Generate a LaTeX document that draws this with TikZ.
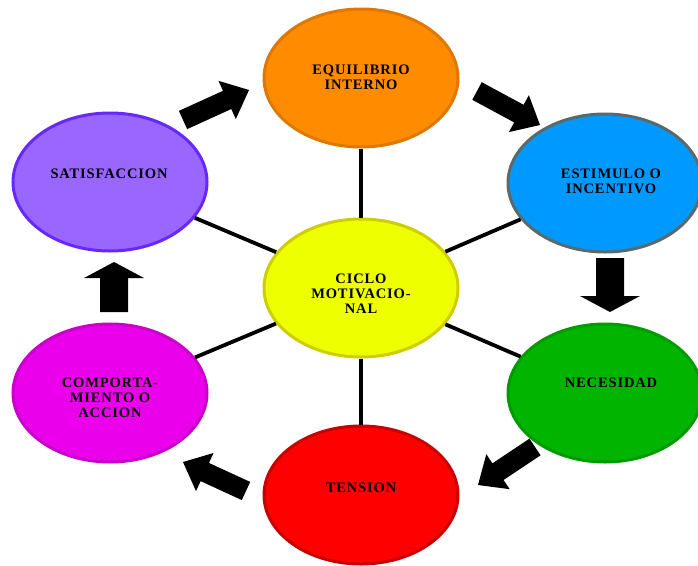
\documentclass[tikz,border=0pt]{standalone}
\usepackage{fontspec}
\setmainfont{Liberation Serif}[LetterSpace=6]
\usetikzlibrary{calc,shapes.geometric}
\definecolor{orfill}{RGB}{255,140,0}
\definecolor{ordraw}{RGB}{222,120,0}
\definecolor{pufill}{RGB}{153,102,255}
\definecolor{pudraw}{RGB}{102,40,255}
\definecolor{blfill}{RGB}{0,153,255}
\definecolor{bldraw}{RGB}{90,106,106}
\definecolor{yefill}{RGB}{238,255,0}
\definecolor{yedraw}{RGB}{205,205,0}
\definecolor{mafill}{RGB}{235,0,235}
\definecolor{madraw}{RGB}{200,0,200}
\definecolor{grfill}{RGB}{0,180,0}
\definecolor{grdraw}{RGB}{0,155,0}
\definecolor{rdfill}{RGB}{255,0,0}
\definecolor{rddraw}{RGB}{200,0,0}
\newcommand\bkarrow[5]{%
  \coordinate (hb) at ($(#2)!#5!(#1)$);
  \fill[black] ($(#1)!#3!90:(#2)$) -- ($(hb)!#3!90:(#2)$) -- ($(hb)!#4!90:(#2)$) -- (#2)
    -- ($(hb)!#4!-90:(#2)$) -- ($(hb)!#3!-90:(#2)$) -- ($(#1)!#3!-90:(#2)$) -- cycle;}
\begin{document}
\begin{tikzpicture}[x=1pt,y=-1pt,
  bubble/.style={ellipse, minimum width=194pt, minimum height=138pt, inner sep=0pt, line width=3pt},
  lbl/.style={align=center, inner sep=0pt, font=\bfseries\fontsize{14.5}{15}\selectfont},
  spoke/.style={line width=3.8pt, black}]
\useasboundingbox[fill=white] (0,0) rectangle (698,565);
\node[bubble, fill=orfill, draw=ordraw] (e) at (361,78) {};
\node[bubble, fill=pufill, draw=pudraw] (s) at (110,182) {};
\node[bubble, fill=blfill, draw=bldraw] (i) at (605,183) {};
\node[bubble, fill=yefill, draw=yedraw] (c) at (361,288) {};
\node[bubble, fill=mafill, draw=madraw] (m) at (110,393) {};
\node[bubble, fill=grfill, draw=grdraw] (n) at (605,393) {};
\node[bubble, fill=rdfill, draw=rddraw] (t) at (361,495) {};
\foreach \o in {e,s,i,m,n,t} \draw[spoke] (c) -- (\o);
\node[lbl] (te) at (361,77.5) {EQUILIBRIO\\INTERNO};
\node[lbl] (ts) at (109,174) {SATISFACCION};
\node[lbl] (ti) at (611,181) {ESTIMULO O\\INCENTIVO};
\node[lbl] (tc) at (361,294) {CICLO\\MOTIVACIO-\\NAL};
\node[lbl] (tm) at (110,398) {COMPORTA-\\MIENTO O\\ACCION};
\node[lbl] (tn) at (611,383) {NECESIDAD};
\node[lbl] (tt) at (361,488) {TENSION};
\coordinate (a1t) at (183,120); \coordinate (a1h) at (249,90);
\coordinate (a2t) at (477,91);  \coordinate (a2h) at (540,125);
\coordinate (a3t) at (610,258); \coordinate (a3h) at (610,312);
\coordinate (a4t) at (535,447); \coordinate (a4h) at (478,485);
\coordinate (a5t) at (246,491); \coordinate (a5h) at (183,462);
\coordinate (a6t) at (114,312); \coordinate (a6h) at (114,262);
\bkarrow{a1t}{a1h}{10pt}{21pt}{24pt}
\bkarrow{a2t}{a2h}{10pt}{21pt}{24pt}
\bkarrow{a3t}{a3h}{14pt}{30pt}{16pt}
\bkarrow{a4t}{a4h}{10pt}{21pt}{24pt}
\bkarrow{a5t}{a5h}{10pt}{21pt}{24pt}
\bkarrow{a6t}{a6h}{14pt}{30pt}{16pt}
\end{tikzpicture}
\end{document}
